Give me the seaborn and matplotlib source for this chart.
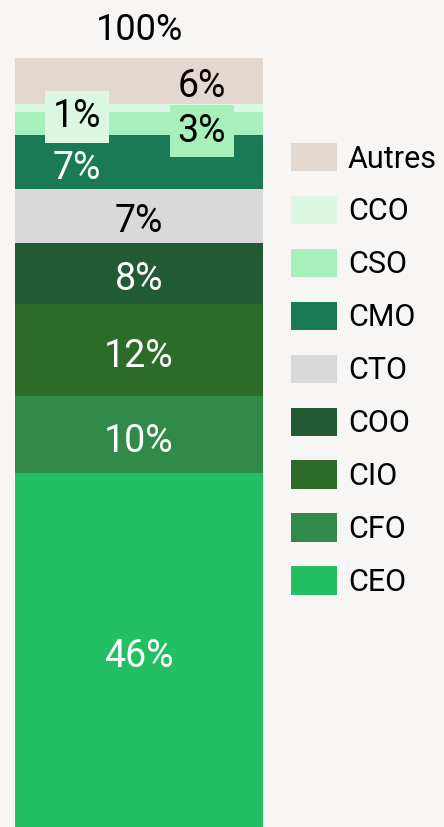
import seaborn as sns
import matplotlib.pyplot as plt
import pandas as pd
import numpy as np

# roles from bottom to top of the stacked bar
roles = ['CEO', 'CFO', 'CIO', 'COO', 'CTO', 'CMO', 'CSO', 'CCO', 'Autres']
shares = [46, 10, 12, 8, 7, 7, 3, 1, 6]
colors = ['#22c063', '#318a47', '#2d6b29', '#225b33', '#d9d9d9',
          '#1b7a56', '#a8f0bb', '#dcf8e5', '#e2d8cf']
label_colors = ['white', 'white', 'white', 'white', 'black',
                'white', 'black', 'black', 'black']
total_label = '100%'

bg = '#f7f6f4'
sns.set_theme(style='white')
plt.rcParams['font.family'] = ['Roboto', 'DejaVu Sans']

cum = np.cumsum(shares)
df = pd.DataFrame({'Groupe': ['Total'] * len(roles), 'Role': roles, 'Cum': cum})

fig = plt.figure(figsize=(4.44, 8.27), dpi=100, facecolor=bg)
ax = fig.add_axes([15 / 444, 0, 248 / 444, (827 - 58) / 827])
ax.set_facecolor(bg)

# stacked bar: draw cumulative totals from the top down so each covers the previous one
order = roles[::-1]
pal = dict(zip(roles, colors))
sns.barplot(data=df, x='Groupe', y='Cum', hue='Role', hue_order=order,
            palette=pal, dodge=False, width=1, saturation=1, linewidth=0,
            ax=ax)

ax.set_xlim(-0.5, 0.5)
ax.set_ylim(0, 100)
ax.set_axis_off()

# segment labels
mids = cum - np.array(shares) / 2
offsets = {'CMO': -0.25, 'CCO': -0.25, 'CSO': 0.254, 'Autres': 0.254}
for i, role in enumerate(roles):
    dx = offsets.get(role, 0)
    y = mids[i]
    kw = {}
    if role == 'CCO':
        y = 93.2
        kw['bbox'] = dict(boxstyle='square,pad=0.2', fc=colors[i], ec='none')
    elif role == 'CSO':
        y = 91.3
        kw['bbox'] = dict(boxstyle='square,pad=0.2', fc=colors[i], ec='none')
    elif role == 'Autres':
        y = 97.1
    ax.annotate(f'{shares[i]}%', (dx, y), xytext=(0, -4.5), textcoords='offset points',
                ha='center', va='center', fontsize=27, color=label_colors[i],
                zorder=5, **kw)

fig.text(140 / 444, 1 - 30 / 827, total_label, ha='center', va='center',
         fontsize=26, color='black')

handles, labels = ax.get_legend_handles_labels()
leg = ax.legend(handles, labels, loc='upper left', bbox_to_anchor=(291 / 444, 1 - 143 / 827),
                bbox_transform=fig.transFigure, frameon=False, fontsize=22,
                handlelength=1.5, handleheight=1.05, labelspacing=0.73, handletextpad=0.36,
                borderpad=0, borderaxespad=0)
for t in leg.get_texts():
    t.set_color('black')

fig.savefig('out.png', dpi=100, facecolor=bg)
